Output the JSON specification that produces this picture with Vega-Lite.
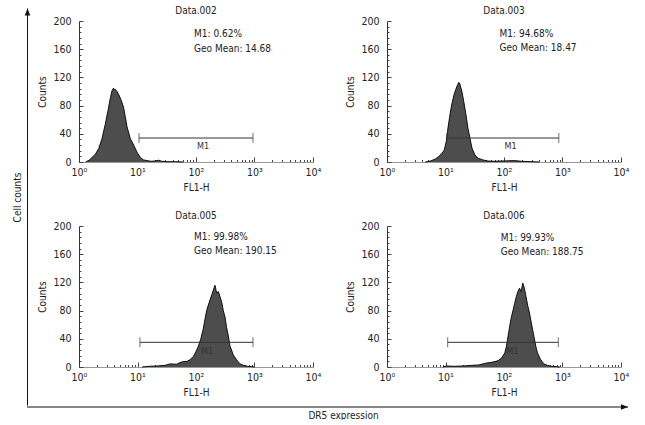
{
  "$schema": "https://vega.github.io/schema/vega-lite/v6.json",
  "padding": {"left": 12, "top": 6, "right": 5, "bottom": 0},
  "background": "white",
  "config": {
    "view": {"stroke": null},
    "font": "DejaVu Sans Condensed",
    "axis": {"grid": false, "labelOverlap": false, "labelBound": false, "labelFont": "DejaVu Sans Condensed", "titleFont": "DejaVu Sans Condensed", "titleFontWeight": "normal", "labelColor": "#222", "titleColor": "#222"},
    "header": {"labelFont": "DejaVu Sans Condensed"}
  },
  "spacing": -3,
  "vconcat": [
    {
      "spacing": 6,
      "hconcat": [
        {
          "width": 1,
          "height": 384.5,
          "data": {"values": [{"start": 0, "end": 1.0325}]},
          "layer": [
            {
              "mark": {"type": "rule", "color": "#111", "strokeWidth": 1},
              "encoding": {
                "y": {"field": "start", "type": "quantitative", "scale": {"domain": [0, 1]}, "axis": {"title": "Cell counts", "titleFontSize": 10, "titlePadding": 5, "titleY": 176, "domain": false, "ticks": false, "labels": false}},
                "y2": {"field": "end"}
              }
            },
            {
              "mark": {"type": "point", "shape": "M0,0L-0.4,1L0.4,1Z", "filled": true, "color": "#111", "opacity": 1, "size": 196},
              "encoding": {"y": {"field": "end", "type": "quantitative"}}
            }
          ]
        },
        {
          "data": {"values": [
            {"panel": "Data.002", "kind": "h", "fl": 1.3, "count": 0},
            {"panel": "Data.002", "kind": "h", "fl": 1.5, "count": 2.8},
            {"panel": "Data.002", "kind": "h", "fl": 1.67, "count": 6.5},
            {"panel": "Data.002", "kind": "h", "fl": 1.9, "count": 11},
            {"panel": "Data.002", "kind": "h", "fl": 2.17, "count": 19},
            {"panel": "Data.002", "kind": "h", "fl": 2.47, "count": 33},
            {"panel": "Data.002", "kind": "h", "fl": 2.82, "count": 54},
            {"panel": "Data.002", "kind": "h", "fl": 3.13, "count": 73},
            {"panel": "Data.002", "kind": "h", "fl": 3.44, "count": 91},
            {"panel": "Data.002", "kind": "h", "fl": 3.66, "count": 101},
            {"panel": "Data.002", "kind": "h", "fl": 3.9, "count": 105},
            {"panel": "Data.002", "kind": "h", "fl": 4.05, "count": 102},
            {"panel": "Data.002", "kind": "h", "fl": 4.18, "count": 103},
            {"panel": "Data.002", "kind": "h", "fl": 4.46, "count": 100},
            {"panel": "Data.002", "kind": "h", "fl": 4.76, "count": 96},
            {"panel": "Data.002", "kind": "h", "fl": 5.3, "count": 87},
            {"panel": "Data.002", "kind": "h", "fl": 5.8, "count": 77},
            {"panel": "Data.002", "kind": "h", "fl": 6.19, "count": 64},
            {"panel": "Data.002", "kind": "h", "fl": 6.62, "count": 50},
            {"panel": "Data.002", "kind": "h", "fl": 7.55, "count": 33},
            {"panel": "Data.002", "kind": "h", "fl": 8.61, "count": 24},
            {"panel": "Data.002", "kind": "h", "fl": 9.8, "count": 14},
            {"panel": "Data.002", "kind": "h", "fl": 11.2, "count": 6.5},
            {"panel": "Data.002", "kind": "h", "fl": 12.7, "count": 3},
            {"panel": "Data.002", "kind": "h", "fl": 14.5, "count": 2},
            {"panel": "Data.002", "kind": "h", "fl": 17, "count": 1},
            {"panel": "Data.002", "kind": "h", "fl": 20, "count": 1.5},
            {"panel": "Data.002", "kind": "h", "fl": 23, "count": 2.5},
            {"panel": "Data.002", "kind": "h", "fl": 26, "count": 1},
            {"panel": "Data.002", "kind": "h", "fl": 32, "count": 0.5},
            {"panel": "Data.002", "kind": "h", "fl": 45, "count": 0.5},
            {"panel": "Data.002", "kind": "h", "fl": 60, "count": 0},

            {"panel": "Data.003", "kind": "h", "fl": 4.5, "count": 0},
            {"panel": "Data.003", "kind": "h", "fl": 5.53, "count": 1.4},
            {"panel": "Data.003", "kind": "h", "fl": 6.71, "count": 4.3},
            {"panel": "Data.003", "kind": "h", "fl": 7.64, "count": 7.7},
            {"panel": "Data.003", "kind": "h", "fl": 8.71, "count": 12.4},
            {"panel": "Data.003", "kind": "h", "fl": 9.53, "count": 17},
            {"panel": "Data.003", "kind": "h", "fl": 10.3, "count": 29},
            {"panel": "Data.003", "kind": "h", "fl": 10.8, "count": 43},
            {"panel": "Data.003", "kind": "h", "fl": 11.7, "count": 63},
            {"panel": "Data.003", "kind": "h", "fl": 12.8, "count": 82},
            {"panel": "Data.003", "kind": "h", "fl": 14.05, "count": 96},
            {"panel": "Data.003", "kind": "h", "fl": 15.6, "count": 107},
            {"panel": "Data.003", "kind": "h", "fl": 16.9, "count": 113},
            {"panel": "Data.003", "kind": "h", "fl": 17.7, "count": 110},
            {"panel": "Data.003", "kind": "h", "fl": 19.2, "count": 99},
            {"panel": "Data.003", "kind": "h", "fl": 20.7, "count": 84},
            {"panel": "Data.003", "kind": "h", "fl": 22.4, "count": 67},
            {"panel": "Data.003", "kind": "h", "fl": 24.2, "count": 48},
            {"panel": "Data.003", "kind": "h", "fl": 26.2, "count": 34},
            {"panel": "Data.003", "kind": "h", "fl": 28.3, "count": 20},
            {"panel": "Data.003", "kind": "h", "fl": 31.8, "count": 10},
            {"panel": "Data.003", "kind": "h", "fl": 36.2, "count": 5.3},
            {"panel": "Data.003", "kind": "h", "fl": 44, "count": 2.9},
            {"panel": "Data.003", "kind": "h", "fl": 53, "count": 1.4},
            {"panel": "Data.003", "kind": "h", "fl": 70, "count": 1},
            {"panel": "Data.003", "kind": "h", "fl": 100, "count": 1.5},
            {"panel": "Data.003", "kind": "h", "fl": 150, "count": 2},
            {"panel": "Data.003", "kind": "h", "fl": 200, "count": 1},
            {"panel": "Data.003", "kind": "h", "fl": 300, "count": 0.5},
            {"panel": "Data.003", "kind": "h", "fl": 400, "count": 0},

            {"panel": "Data.005", "kind": "h", "fl": 12, "count": 0},
            {"panel": "Data.005", "kind": "h", "fl": 16, "count": 1},
            {"panel": "Data.005", "kind": "h", "fl": 22, "count": 1.5},
            {"panel": "Data.005", "kind": "h", "fl": 30, "count": 2.5},
            {"panel": "Data.005", "kind": "h", "fl": 35.9, "count": 4.4},
            {"panel": "Data.005", "kind": "h", "fl": 46.8, "count": 4},
            {"panel": "Data.005", "kind": "h", "fl": 52, "count": 6},
            {"panel": "Data.005", "kind": "h", "fl": 60.7, "count": 7.7},
            {"panel": "Data.005", "kind": "h", "fl": 70, "count": 8},
            {"panel": "Data.005", "kind": "h", "fl": 78.9, "count": 10.2},
            {"panel": "Data.005", "kind": "h", "fl": 90, "count": 15},
            {"panel": "Data.005", "kind": "h", "fl": 100, "count": 22},
            {"panel": "Data.005", "kind": "h", "fl": 109.6, "count": 29.5},
            {"panel": "Data.005", "kind": "h", "fl": 120, "count": 39},
            {"panel": "Data.005", "kind": "h", "fl": 133, "count": 54},
            {"panel": "Data.005", "kind": "h", "fl": 142.6, "count": 68},
            {"panel": "Data.005", "kind": "h", "fl": 152, "count": 80},
            {"panel": "Data.005", "kind": "h", "fl": 162.5, "count": 88},
            {"panel": "Data.005", "kind": "h", "fl": 173.4, "count": 95},
            {"panel": "Data.005", "kind": "h", "fl": 185.4, "count": 102},
            {"panel": "Data.005", "kind": "h", "fl": 197.8, "count": 109},
            {"panel": "Data.005", "kind": "h", "fl": 211, "count": 116},
            {"panel": "Data.005", "kind": "h", "fl": 220, "count": 109},
            {"panel": "Data.005", "kind": "h", "fl": 225.5, "count": 105},
            {"panel": "Data.005", "kind": "h", "fl": 241, "count": 107},
            {"panel": "Data.005", "kind": "h", "fl": 257, "count": 100},
            {"panel": "Data.005", "kind": "h", "fl": 275, "count": 92},
            {"panel": "Data.005", "kind": "h", "fl": 293, "count": 80},
            {"panel": "Data.005", "kind": "h", "fl": 313, "count": 71},
            {"panel": "Data.005", "kind": "h", "fl": 334, "count": 56},
            {"panel": "Data.005", "kind": "h", "fl": 357, "count": 44},
            {"panel": "Data.005", "kind": "h", "fl": 381, "count": 30},
            {"panel": "Data.005", "kind": "h", "fl": 435, "count": 17},
            {"panel": "Data.005", "kind": "h", "fl": 496, "count": 10},
            {"panel": "Data.005", "kind": "h", "fl": 565, "count": 4.4},
            {"panel": "Data.005", "kind": "h", "fl": 644, "count": 2.4},
            {"panel": "Data.005", "kind": "h", "fl": 750, "count": 1},
            {"panel": "Data.005", "kind": "h", "fl": 900, "count": 0.5},
            {"panel": "Data.005", "kind": "h", "fl": 1000, "count": 0},

            {"panel": "Data.006", "kind": "h", "fl": 9, "count": 0},
            {"panel": "Data.006", "kind": "h", "fl": 10.5, "count": 1.5},
            {"panel": "Data.006", "kind": "h", "fl": 14, "count": 1},
            {"panel": "Data.006", "kind": "h", "fl": 20, "count": 1.5},
            {"panel": "Data.006", "kind": "h", "fl": 28.6, "count": 2.4},
            {"panel": "Data.006", "kind": "h", "fl": 37, "count": 2.9},
            {"panel": "Data.006", "kind": "h", "fl": 47.8, "count": 5.3},
            {"panel": "Data.006", "kind": "h", "fl": 58, "count": 6.3},
            {"panel": "Data.006", "kind": "h", "fl": 70.3, "count": 7.7},
            {"panel": "Data.006", "kind": "h", "fl": 79.9, "count": 9.2},
            {"panel": "Data.006", "kind": "h", "fl": 90.8, "count": 12.6},
            {"panel": "Data.006", "kind": "h", "fl": 103, "count": 20},
            {"panel": "Data.006", "kind": "h", "fl": 110, "count": 29.5},
            {"panel": "Data.006", "kind": "h", "fl": 117.5, "count": 44},
            {"panel": "Data.006", "kind": "h", "fl": 125.4, "count": 58.6},
            {"panel": "Data.006", "kind": "h", "fl": 133.6, "count": 70.7},
            {"panel": "Data.006", "kind": "h", "fl": 142.5, "count": 80.4},
            {"panel": "Data.006", "kind": "h", "fl": 151.8, "count": 90},
            {"panel": "Data.006", "kind": "h", "fl": 162, "count": 99.7},
            {"panel": "Data.006", "kind": "h", "fl": 172.7, "count": 107},
            {"panel": "Data.006", "kind": "h", "fl": 184, "count": 111.8},
            {"panel": "Data.006", "kind": "h", "fl": 196.3, "count": 107},
            {"panel": "Data.006", "kind": "h", "fl": 209.4, "count": 119},
            {"panel": "Data.006", "kind": "h", "fl": 223, "count": 111.8},
            {"panel": "Data.006", "kind": "h", "fl": 238, "count": 99.7},
            {"panel": "Data.006", "kind": "h", "fl": 253.7, "count": 87.6},
            {"panel": "Data.006", "kind": "h", "fl": 270.6, "count": 78},
            {"panel": "Data.006", "kind": "h", "fl": 288.5, "count": 65.8},
            {"panel": "Data.006", "kind": "h", "fl": 307.5, "count": 53.7},
            {"panel": "Data.006", "kind": "h", "fl": 328, "count": 41.7},
            {"panel": "Data.006", "kind": "h", "fl": 350, "count": 29.5},
            {"panel": "Data.006", "kind": "h", "fl": 373, "count": 20},
            {"panel": "Data.006", "kind": "h", "fl": 424.5, "count": 10.2},
            {"panel": "Data.006", "kind": "h", "fl": 482, "count": 4.4},
            {"panel": "Data.006", "kind": "h", "fl": 549, "count": 2.4},
            {"panel": "Data.006", "kind": "h", "fl": 650, "count": 1},
            {"panel": "Data.006", "kind": "h", "fl": 800, "count": 0.5},
            {"panel": "Data.006", "kind": "h", "fl": 900, "count": 0},

            {"panel": "Data.002", "kind": "g", "fl": 10.6, "fl2": 943, "count": 34},
            {"panel": "Data.003", "kind": "g", "fl": 10.6, "fl2": 865, "count": 34},
            {"panel": "Data.005", "kind": "g", "fl": 11, "fl2": 943, "count": 35},
            {"panel": "Data.006", "kind": "g", "fl": 10.9, "fl2": 849, "count": 35},
            {"panel": "Data.002", "kind": "c", "fl": 10.6, "count": 34},
            {"panel": "Data.002", "kind": "c", "fl": 943, "count": 34},
            {"panel": "Data.003", "kind": "c", "fl": 10.6, "count": 34},
            {"panel": "Data.003", "kind": "c", "fl": 865, "count": 34},
            {"panel": "Data.005", "kind": "c", "fl": 11, "count": 35},
            {"panel": "Data.005", "kind": "c", "fl": 943, "count": 35},
            {"panel": "Data.006", "kind": "c", "fl": 10.9, "count": 35},
            {"panel": "Data.006", "kind": "c", "fl": 849, "count": 35},
            {"panel": "Data.002", "kind": "l", "fl": 132, "count": 22, "text": "M1"},
            {"panel": "Data.003", "kind": "l", "fl": 129, "count": 23, "text": "M1"},
            {"panel": "Data.005", "kind": "l", "fl": 154, "count": 22, "text": "M1"},
            {"panel": "Data.006", "kind": "l", "fl": 139, "count": 22, "text": "M1"},
            {"panel": "Data.002", "kind": "s", "fl": 92.5, "count": 181, "text": "M1: 0.62%"},
            {"panel": "Data.002", "kind": "s", "fl": 92.5, "count": 160, "text": "Geo Mean: 14.68"},
            {"panel": "Data.003", "kind": "s", "fl": 84, "count": 182, "text": "M1: 94.68%"},
            {"panel": "Data.003", "kind": "s", "fl": 84, "count": 161, "text": "Geo Mean: 18.47"},
            {"panel": "Data.005", "kind": "s", "fl": 92.5, "count": 184, "text": "M1: 99.98%"},
            {"panel": "Data.005", "kind": "s", "fl": 92.5, "count": 164, "text": "Geo Mean: 190.15"},
            {"panel": "Data.006", "kind": "s", "fl": 88, "count": 183.5, "text": "M1: 99.93%"},
            {"panel": "Data.006", "kind": "s", "fl": 88, "count": 162.5, "text": "Geo Mean: 188.75"}
          ]},
          "facet": {"field": "panel", "type": "nominal", "header": {"title": null, "labelFontSize": 10, "labelPadding": 0, "labelColor": "#222"}},
          "columns": 2,
          "spacing": {"row": 19, "column": 24},
          "resolve": {"axis": {"x": "independent", "y": "independent"}},
          "spec": {
            "width": 234,
            "height": 141,
            "layer": [
              {
                "transform": [{"filter": "datum.kind === 'h'"}],
                "mark": {"type": "area", "color": "#4d4d4d", "opacity": 1, "line": {"color": "#000", "strokeWidth": 0.9}},
                "encoding": {
                  "x": {
                    "field": "fl", "type": "quantitative",
                    "scale": {"type": "log", "domain": [1, 10000], "nice": false},
                    "axis": {
                      "title": "FL1-H", "titleFontSize": 10, "titlePadding": 2,
                      "values": [1,2,3,4,5,6,7,8,9,10,20,30,40,50,60,70,80,90,100,200,300,400,500,600,700,800,900,1000,2000,3000,4000,5000,6000,7000,8000,9000,10000],
                      "tickCount": 60,
                      "labelExpr": "datum.value === 1 ? '10⁰' : datum.value === 10 ? '10¹' : datum.value === 100 ? '10²' : datum.value === 1000 ? '10³' : datum.value === 10000 ? '10⁴' : ''",
                      "labelFontSize": 10.5, "labelFlush": false, "labelOverlap": false, "labelPadding": 10,
                      "tickSize": {"condition": {"test": "indexof([1,10,100,1000,10000], datum.value) >= 0", "value": -5}, "value": -2.5},
                      "tickColor": "#444", "domainColor": "#999"
                    }
                  },
                  "y": {
                    "field": "count", "type": "quantitative",
                    "scale": {"domain": [0, 200], "nice": false},
                    "axis": {
                      "title": "Counts", "titleFontSize": 10, "titlePadding": 5,
                      "values": [0,8,16,24,32,40,48,56,64,72,80,88,96,104,112,120,128,136,144,152,160,168,176,184,192,200],
                      "tickCount": 60,
                      "labelExpr": "datum.value % 40 === 0 ? datum.label : ''",
                      "labelFontSize": 10.5, "labelOverlap": false, "labelPadding": 12,
                      "tickSize": {"condition": {"test": "datum.value % 40 === 0", "value": -4}, "value": -2},
                      "tickColor": "#444", "domainColor": "#333"
                    }
                  }
                }
              },
              {
                "transform": [{"filter": "datum.kind === 'g'"}],
                "mark": {"type": "rule", "color": "#333", "strokeWidth": 1},
                "encoding": {
                  "x": {"field": "fl", "type": "quantitative"},
                  "x2": {"field": "fl2"},
                  "y": {"field": "count", "type": "quantitative"}
                }
              },
              {
                "transform": [{"filter": "datum.kind === 'c'"}],
                "mark": {"type": "tick", "orient": "vertical", "color": "#333", "size": 10, "thickness": 1},
                "encoding": {
                  "x": {"field": "fl", "type": "quantitative"},
                  "y": {"field": "count", "type": "quantitative"}
                }
              },
              {
                "transform": [{"filter": "datum.kind === 'l'"}],
                "mark": {"type": "text", "color": "#333", "fontSize": 9, "align": "center", "baseline": "middle"},
                "encoding": {
                  "x": {"field": "fl", "type": "quantitative"},
                  "y": {"field": "count", "type": "quantitative"},
                  "text": {"field": "text"}
                }
              },
              {
                "transform": [{"filter": "datum.kind === 's'"}],
                "mark": {"type": "text", "color": "#222", "fontSize": 10, "align": "left", "baseline": "middle"},
                "encoding": {
                  "x": {"field": "fl", "type": "quantitative"},
                  "y": {"field": "count", "type": "quantitative"},
                  "text": {"field": "text"}
                }
              }
            ]
          }
        }
      ]
    },
    {
      "width": 601,
      "height": 1,
      "data": {"values": [{"start": 0, "end": 1, "level": 0}]},
      "layer": [
        {
          "mark": {"type": "rule", "color": "#111", "strokeWidth": 1},
          "encoding": {
            "x": {"field": "start", "type": "quantitative", "scale": {"domain": [0, 1]}, "axis": {"title": "DR5 expression", "titleFontSize": 10, "titlePadding": 3, "titleX": 316, "domain": false, "ticks": false, "labels": false}},
            "x2": {"field": "end"},
            "y": {"field": "level", "type": "quantitative", "scale": {"domain": [0, 1]}, "axis": {"title": " ", "titleFontSize": 10, "titlePadding": 5, "domain": false, "ticks": false, "labels": false}}
          }
        },
        {
          "mark": {"type": "point", "shape": "M0,0L-1,-0.4L-1,0.4Z", "filled": true, "color": "#111", "opacity": 1, "size": 196},
          "encoding": {
            "x": {"field": "end", "type": "quantitative"},
            "y": {"field": "level", "type": "quantitative"}
          }
        }
      ]
    }
  ]
}
